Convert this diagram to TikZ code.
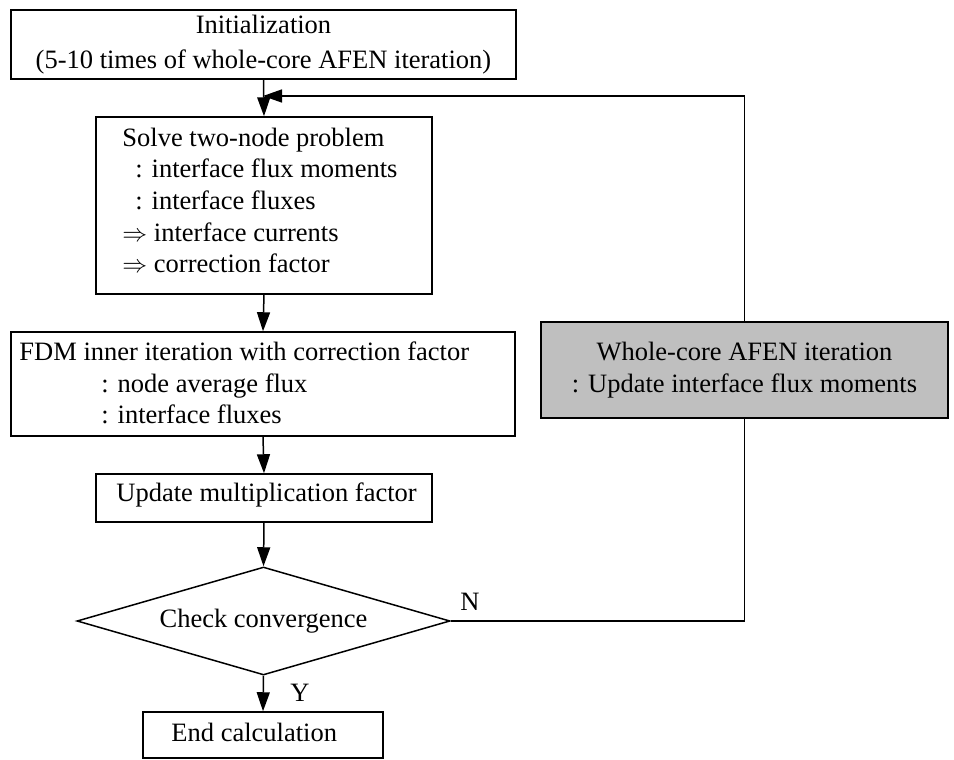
\documentclass[tikz,border=0pt]{standalone}
\usepackage{fontspec}
\setmainfont{Liberation Serif}
\usetikzlibrary{shapes.geometric,arrows.meta}
\begin{document}
\begin{tikzpicture}[x=1pt,y=-1pt,
  box/.style={draw,line width=1.5pt,inner sep=0pt,font=\fontsize{26.5}{31.7}\selectfont},
  txt/.style={inner sep=0pt,align=left,font=\fontsize{26.5}{31.7}\selectfont},
  arr/.style={line width=1.5pt,-{Triangle[length=19pt,width=13pt]}},
  ln/.style={line width=1.5pt},
  lbl/.style={font=\fontsize{26.5}{30}\selectfont,inner sep=0pt}]
\useasboundingbox (0,0) rectangle (954,760);
\node[box,minimum width=505pt,minimum height=69pt,align=center,font=\fontsize{26.5}{35}\selectfont] (init) at (263.5,44.5)
  {Initialization\\(5-10 times of whole-core AFEN iteration)};
\node[box,minimum width=336pt,minimum height=177pt] (solve) at (264,205.5) {};
\node[txt,anchor=west] (solvetext) at ([xshift=27pt,yshift=5pt]solve.west)
  {Solve two-node problem\\\hspace*{13pt}: interface flux moments\\\hspace*{13pt}: interface fluxes\\$\Rightarrow$ interface currents\\$\Rightarrow$ correction factor};
\node[box,minimum width=504pt,minimum height=104pt] (fdm) at (263,384) {};
\node[txt,anchor=west] (fdmtext) at ([xshift=9pt,yshift=1pt]fdm.west)
  {FDM inner iteration with correction factor\\\hspace*{82pt}: node average flux\\\hspace*{82pt}: interface fluxes};
\node[box,minimum width=336pt,minimum height=48pt] (upd) at (264,498) {};
\node[txt,anchor=west] (updtext) at ([xshift=21pt,yshift=3pt]upd.west) {Update multiplication factor};
\node[draw,diamond,line width=1.5pt,minimum width=373pt,minimum height=108pt,inner sep=0pt,aspect=3.45,font=\fontsize{26.5}{30}\selectfont] (conv) at (263.5,621)
  {Check convergence};
\node[box,minimum width=240pt,minimum height=46pt] (end) at (263,735) {};
\node[txt,anchor=west] (endtext) at ([xshift=29pt,yshift=3pt]end.west) {End calculation};
\node[box,fill=black!25,minimum width=407pt,minimum height=96pt,align=center] (afen) at (744.5,370)
  {Whole-core AFEN iteration\\: Update interface flux moments};
\coordinate (merge) at (263,96);
\draw[arr] (init.south) -- (solve.north);
\draw[arr] (solve.south) -- (fdm.north);
\draw[arr] (fdm.south) -- (upd.north);
\draw[arr] (upd.south) -- (conv.north);
\draw[arr] (conv.south) -- (end.north);
\draw[ln] (conv.east) -- (conv.east -| afen.south) -- (afen.south);
\draw[arr] (afen.north) |- (merge);
\node[lbl] (n) at (470,602) {N};
\node[lbl] (y) at (300,693) {Y};
\end{tikzpicture}
\end{document}
